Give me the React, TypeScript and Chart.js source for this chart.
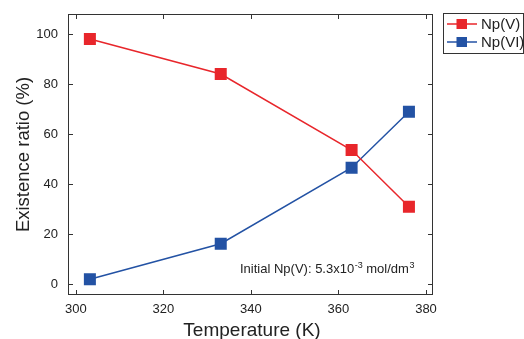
import React, { useEffect, useRef } from "react";
import { Chart, registerables } from "chart.js";
Chart.register(...registerables);

const temperatures = [303.2, 333.1, 363, 376.1];
const npV = [98, 84, 53.6, 30.9];
const npVI = [1.9, 16.1, 46.5, 68.9];
const xTicks = [300, 320, 340, 360, 380];
const yTicks = [0, 20, 40, 60, 80, 100];
const seriesNames = ["Np(V)", "Np(VI)"];
const xTitle = "Temperature (K)";
const yTitle = "Existence ratio (%)";
const noteMain = "Initial Np(V): 5.3x10";
const noteExp = "-3";
const noteUnit = " mol/dm";
const noteUnitExp = "3";

const RED = "#e8262b";
const BLUE = "#2352a4";
const FRAME = "#333333";
const FONT = "'Liberation Sans', Arial, sans-serif";

const decorPlugin = {
  id: "decor",
  afterDraw(chart: any) {
    const ctx = chart.ctx;
    const { left, right, top, bottom } = chart.chartArea;
    const xs = chart.scales.x;
    const ys = chart.scales.y;
    ctx.save();
    // frame
    ctx.strokeStyle = FRAME;
    ctx.lineWidth = 1;
    ctx.strokeRect(Math.round(left) + 0.5, Math.round(top) + 0.5, Math.round(right - left) - 1, Math.round(bottom - top) - 1);
    // ticks inward
    const tl = 5;
    ctx.beginPath();
    xTicks.forEach((v) => {
      const px = Math.round(xs.getPixelForValue(v)) + 0.5;
      ctx.moveTo(px, bottom);
      ctx.lineTo(px, bottom - tl);
      ctx.moveTo(px, top);
      ctx.lineTo(px, top + tl);
    });
    yTicks.forEach((v) => {
      const py = Math.round(ys.getPixelForValue(v)) + 0.5;
      ctx.moveTo(left, py);
      ctx.lineTo(left + tl, py);
      ctx.moveTo(right, py);
      ctx.lineTo(right - tl, py);
    });
    ctx.stroke();

    // axis titles
    ctx.fillStyle = "#222";
    ctx.font = `19px ${FONT}`;
    ctx.textAlign = "center";
    ctx.textBaseline = "alphabetic";
    ctx.fillText(xTitle, 252, 336);
    ctx.save();
    ctx.translate(29, (top + bottom) / 2);
    ctx.rotate(-Math.PI / 2);
    ctx.font = `18.5px ${FONT}`;
    ctx.fillText(yTitle, 0, 0);
    ctx.restore();

    // annotation
    ctx.textAlign = "left";
    ctx.textBaseline = "alphabetic";
    let x = 240;
    const by = 273;
    ctx.font = `13px ${FONT}`;
    ctx.fillText(noteMain, x, by);
    x += ctx.measureText(noteMain).width + 0.5;
    ctx.font = `9px ${FONT}`;
    ctx.fillText(noteExp, x, by - 5);
    x += ctx.measureText(noteExp).width;
    ctx.font = `13px ${FONT}`;
    ctx.fillText(noteUnit, x, by);
    x += ctx.measureText(noteUnit).width + 0.5;
    ctx.font = `9px ${FONT}`;
    ctx.fillText(noteUnitExp, x, by - 5);

    // legend
    const lx = 443, ly = 13, lw = 81, lh = 40;
    ctx.strokeStyle = FRAME;
    ctx.lineWidth = 1;
    ctx.strokeRect(lx + 0.5, ly + 0.5, lw - 1, lh);
    const colors = [RED, BLUE];
    seriesNames.forEach((name, i) => {
      const cy = 24 + i * 18;
      ctx.strokeStyle = colors[i];
      ctx.lineWidth = 1.5;
      ctx.beginPath();
      ctx.moveTo(447, cy);
      ctx.lineTo(477, cy);
      ctx.stroke();
      ctx.fillStyle = colors[i];
      ctx.fillRect(456.5, cy - 5, 10.5, 10);
      ctx.fillStyle = "#222";
      ctx.font = `15px ${FONT}`;
      ctx.textBaseline = "middle";
      ctx.fillText(name, 481, cy + 1);
    });
    ctx.restore();
  },
};

export default function App() {
  const ref = useRef<HTMLCanvasElement>(null);
  useEffect(() => {
    if (!ref.current) return;
    const chart = new Chart(ref.current, {
      type: "line",
      data: {
        datasets: [
          {
            label: seriesNames[0],
            data: temperatures.map((t, i) => ({ x: t, y: npV[i] })),
            borderColor: RED,
            backgroundColor: RED,
            borderWidth: 1.5,
            pointStyle: "rect",
            pointRadius: 8.5,
            pointBorderWidth: 0,
          },
          {
            label: seriesNames[1],
            data: temperatures.map((t, i) => ({ x: t, y: npVI[i] })),
            borderColor: BLUE,
            backgroundColor: BLUE,
            borderWidth: 1.5,
            pointStyle: "rect",
            pointRadius: 8.5,
            pointBorderWidth: 0,
          },
        ],
      },
      options: {
        responsive: false,
        animation: false,
        layout: { padding: { left: 0, top: 14, right: 91, bottom: 0 } },
        plugins: { legend: { display: false }, tooltip: { enabled: false } },
        scales: {
          x: {
            type: "linear",
            min: 298.2,
            max: 381.6,
            grid: { display: false, drawTicks: false },
            border: { display: false },
            afterBuildTicks: (s: any) => {
              s.ticks = xTicks.map((v) => ({ value: v }));
            },
            afterFit: (s: any) => {
              s.height = 44;
              s.paddingLeft = 0;
              s.paddingRight = 0;
            },
            ticks: {
              padding: 7,
              color: "#222",
              font: { size: 13, family: FONT },
              maxRotation: 0,
              autoSkip: false,
            },
          },
          y: {
            type: "linear",
            min: -4.4,
            max: 108,
            grid: { display: false, drawTicks: false },
            border: { display: false },
            afterBuildTicks: (s: any) => {
              s.ticks = yTicks.map((v) => ({ value: v }));
            },
            afterFit: (s: any) => {
              s.width = 68;
              s.paddingTop = 0;
              s.paddingBottom = 0;
            },
            ticks: {
              padding: 10,
              color: "#222",
              font: { size: 13, family: FONT },
              autoSkip: false,
            },
          },
        },
      },
      plugins: [decorPlugin],
    } as any);
    return () => chart.destroy();
  }, []);
  return (
    <div style={{ position: "fixed", left: 0, top: 0, width: 524, height: 339, background: "#fff" }}>
      <canvas ref={ref} width={524} height={339} />
    </div>
  );
}
